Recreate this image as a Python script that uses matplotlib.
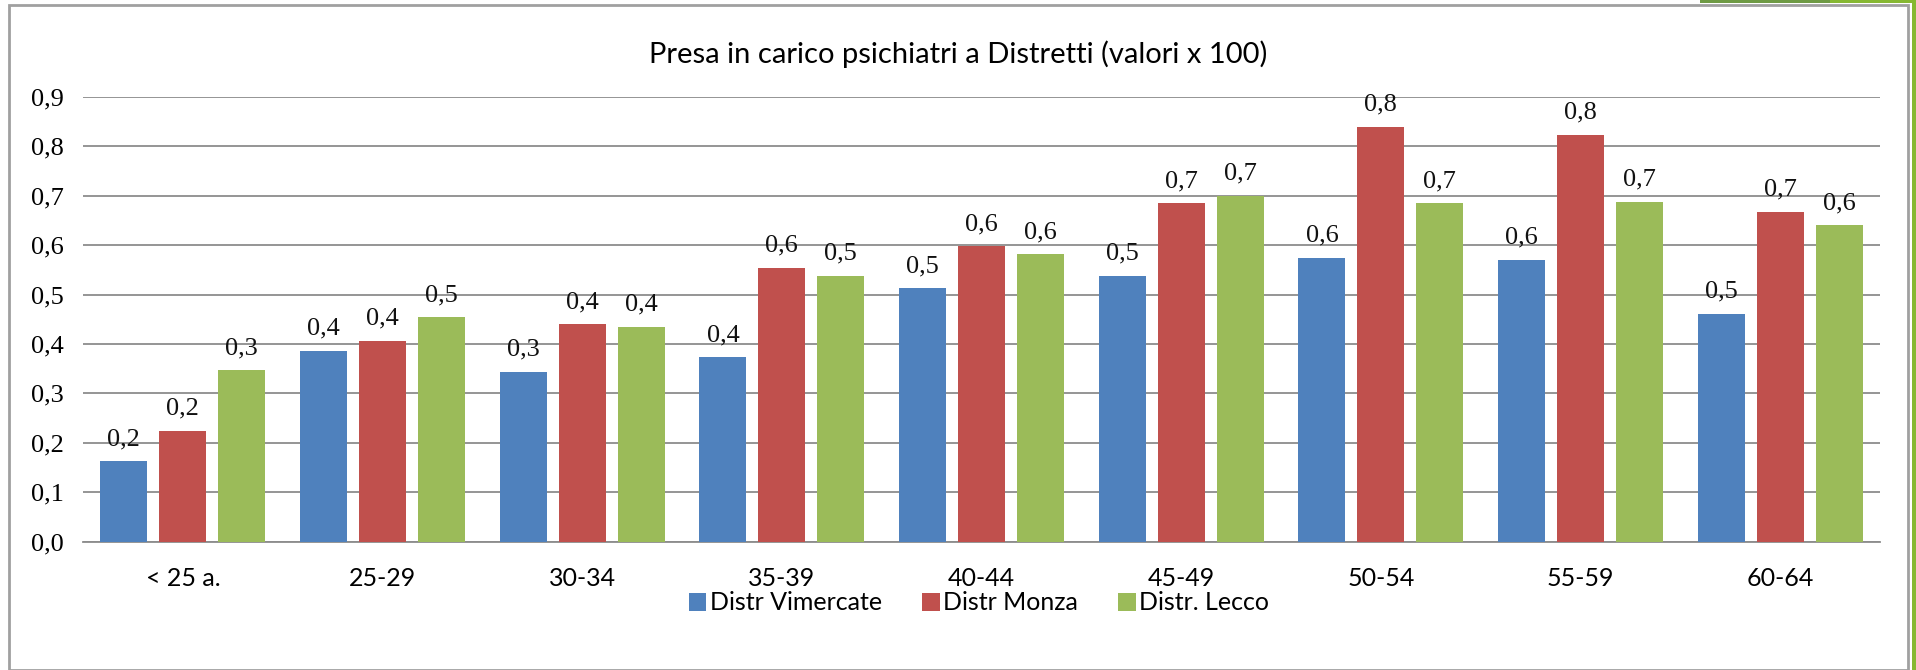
import numpy as np
import matplotlib
matplotlib.use("Agg")
import matplotlib.pyplot as plt
from matplotlib.patches import Rectangle

# dati
categorie = ["< 25 a.", "25-29", "30-34", "35-39", "40-44", "45-49", "50-54", "55-59", "60-64"]
vimercate = [0.163, 0.386, 0.344, 0.373, 0.513, 0.538, 0.575, 0.571, 0.461]
monza = [0.224, 0.406, 0.440, 0.554, 0.598, 0.685, 0.840, 0.824, 0.668]
lecco = [0.347, 0.454, 0.435, 0.538, 0.582, 0.700, 0.685, 0.688, 0.640]
serie = ["Distr Vimercate", "Distr Monza", "Distr. Lecco"]
colori = ["#4F81BD", "#C0504D", "#9BBB59"]
yticks = [0.0, 0.1, 0.2, 0.3, 0.4, 0.5, 0.6, 0.7, 0.8, 0.9]

sans = ["Lato", "Liberation Sans", "DejaVu Sans"]
serif = ["Liberation Serif", "DejaVu Serif"]

fig = plt.figure(figsize=(19.16, 6.70), dpi=100)
ax = fig.add_axes([83/1916, 1-541.6/670, (1880-83)/1916, (541.6-97)/670])

x = np.arange(len(categorie))
w = 0.235
off = 0.295
for i, (vals, nome, col) in enumerate(zip([vimercate, monza, lecco], serie, colori)):
    bars = ax.bar(x + (i-1)*off, vals, w, color=col, label=nome, zorder=3)
    for b, v in zip(bars, vals):
        ax.annotate(f"{v:.1f}".replace(".", ","), (b.get_x()+b.get_width()/2, v),
                    xytext=(0, 8), textcoords="offset points", ha="center", va="bottom",
                    fontsize=19, family=serif, color="#111111")

ax.set_xlim(-0.5, len(categorie)-0.5)
ax.set_ylim(0, 0.9)
ax.set_yticks(yticks)
ax.set_yticklabels([f"{t:.1f}".replace(".", ",") for t in yticks], family=serif, fontsize=19)
ax.set_xticks(x)
ax.set_xticklabels(categorie, family=sans, fontsize=18)
ax.tick_params(axis="both", length=0)
ax.tick_params(axis="y", pad=14)
ax.tick_params(axis="x", pad=18)
ax.grid(axis="y", color="#8c8c8c", linewidth=1.3, zorder=0)
for s in ["top", "right", "left"]:
    ax.spines[s].set_visible(False)
ax.spines["bottom"].set_color("#8c8c8c")
ax.spines["bottom"].set_linewidth(1.3)

fig.text(0.5, 1-54/670, "Presa in carico psichiatri a Distretti (valori x 100)",
         ha="center", va="center", fontsize=21, family=sans)

fig.legend(loc="center", bbox_to_anchor=(979/1916, 1-603/670), ncol=3, frameon=False,
           prop={"family": sans, "size": 18}, handlelength=0.7, handleheight=0.7,
           handletextpad=0.15, columnspacing=1.6)

# cornice del grafico e bordo verde della slide
fig.patches.append(Rectangle((9/1916, 0), (1908-9)/1916, 1-5/670, transform=fig.transFigure,
                             fill=False, edgecolor="#a0a0a0", linewidth=2))
fig.patches.append(Rectangle((1700/1916, 1-3/670), 130/1916, 3/670, transform=fig.transFigure,
                             color="#6e9a44", linewidth=0))
fig.patches.append(Rectangle((1830/1916, 1-3/670), 86/1916, 3/670, transform=fig.transFigure,
                             color="#86b832", linewidth=0))
fig.patches.append(Rectangle((1912/1916, 0), 4/1916, 1, transform=fig.transFigure,
                             color="#86b832", linewidth=0))

fig.savefig("out.png", dpi=100)
